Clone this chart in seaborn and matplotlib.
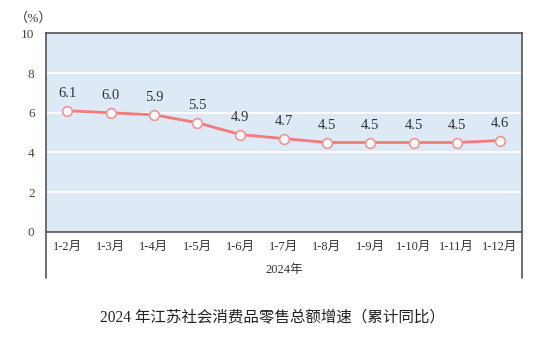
import numpy as np
import pandas as pd
import matplotlib
matplotlib.use("Agg")
import matplotlib.pyplot as plt
import seaborn as sns

periods = ["1-2月", "1-3月", "1-4月", "1-5月", "1-6月", "1-7月",
           "1-8月", "1-9月", "1-10月", "1-11月", "1-12月"]
growth = [6.1, 6.0, 5.9, 5.5, 4.9, 4.7, 4.5, 4.5, 4.5, 4.5, 4.6]
y_ticks = [0, 2, 4, 6, 8, 10]
year_label = "2024年"
unit_label = "（%）"
title = "2024 年江苏社会消费品零售总额增速（累计同比）"

sns.set_theme(style="white")
FONTS = ["Liberation Serif", "Noto Sans CJK SC", "DejaVu Sans"]
plt.rcParams["font.family"] = FONTS

TEXT = "#333333"
BG = "#dde9f5"
LINE = "#f47a7a"
SPINE = "#555555"

df = pd.DataFrame({"pos": np.arange(len(periods)), "growth": growth})

fig = plt.figure(figsize=(5.54, 3.45), dpi=100)
ax = fig.add_axes([0.0825, 0.3284, 0.8592, 0.5745])
ax.set_facecolor(BG)

sns.lineplot(data=df, x="pos", y="growth", ax=ax, color=LINE, lw=2.0,
             marker="o", markersize=7, markerfacecolor="white",
             markeredgecolor="#f39393", markeredgewidth=1.2, zorder=3)

ax.set_xlim(-0.5, len(periods) - 0.5)
ax.set_ylim(0, 10)
ax.set_yticks(y_ticks)
ax.set_yticklabels([str(t) for t in y_ticks], fontsize=9.5, color="#444444")
for t in y_ticks[1:-1]:
    ax.axhline(t, color="white", lw=1.3, zorder=1)
ax.tick_params(axis="y", direction="in", length=3.5, width=1, color=SPINE, pad=8)

# category labels under the axis, separators as minor ticks
ax.set_xticks(np.arange(len(periods)))
ax.set_xticklabels(periods, fontsize=9, color=TEXT)
ax.tick_params(axis="x", which="major", length=0, pad=7)
ax.set_xticks(np.arange(len(periods) + 1) - 0.5, minor=True)
ax.tick_params(axis="x", which="minor", direction="inout", length=19, width=1.2,
               color=SPINE)
ax.set_xlabel("")
ax.set_ylabel("")

for sp in ax.spines.values():
    sp.set_color(SPINE)
    sp.set_linewidth(1.2)
    sp.set_visible(True)

# extend side borders down to enclose the year row
for xa in (0, 1):
    ax.plot([xa, xa], [0, -0.236], transform=ax.transAxes, color=SPINE,
            lw=1.2, clip_on=False)

ax.text(0.5, -0.195, year_label, transform=ax.transAxes, ha="center",
        va="center", fontsize=9, color=TEXT)

for x, v in zip(df["pos"], growth):
    ax.annotate(f"{v:.1f}", (x, v), xytext=(0, 12.5), textcoords="offset points",
                ha="center", va="center", fontsize=10.5, color=TEXT)

fig.text(0.060, 0.946, unit_label, ha="center", va="center", fontsize=9.5,
         color=TEXT)
fig.text(0.492, 0.078, title, ha="center", va="center", fontsize=11.2,
         color="#222222")

fig.savefig("out.png", dpi=100)
